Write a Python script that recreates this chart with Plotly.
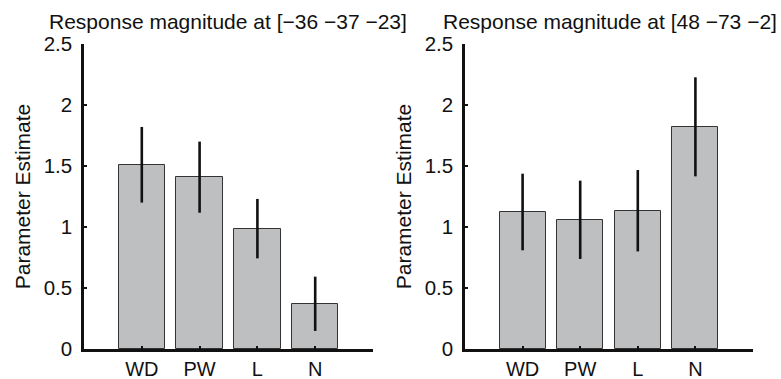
import plotly.graph_objects as go

categories = ["WD", "PW", "L", "N"]
positions = [1, 2, 3, 4]

left_title = "Response magnitude at [\u221236 \u221237 \u221223]"
right_title = "Response magnitude at [48 \u221273 \u22122]"

left_values = [1.51, 1.41, 0.985, 0.37]
left_err_hi = [1.82, 1.70, 1.23, 0.593]
left_err_lo = [1.20, 1.117, 0.743, 0.148]

right_values = [1.12, 1.057, 1.131, 1.82]
right_err_hi = [1.437, 1.38, 1.467, 2.227]
right_err_lo = [0.809, 0.738, 0.80, 1.415]

y_ticks = [0, 0.5, 1, 1.5, 2, 2.5]
y_ticktext = ["0", "0.5", "1", "1.5", "2", "2.5"]

W, H = 781, 379
FONT = "Liberation Sans, Arial, Helvetica, sans-serif"
FS = 20.5

fig = go.Figure()

def add_panel(vals, hi, lo, xa, ya):
    fig.add_trace(go.Bar(
        x=positions, y=vals, width=0.8,
        marker=dict(color="#bebfc1", line=dict(color="#333333", width=1)),
        error_y=dict(type="data", symmetric=False,
                     array=[h - v for h, v in zip(hi, vals)],
                     arrayminus=[v - l for v, l in zip(vals, lo)],
                     color="#111111", thickness=2.6, width=0),
        xaxis=xa, yaxis=ya, showlegend=False, hoverinfo="skip",
    ))

add_panel(left_values, left_err_hi, left_err_lo, "x", "y")
add_panel(right_values, right_err_hi, right_err_lo, "x2", "y2")

y0 = (H - 349) / H
y1 = (H - 44) / H

xcommon = dict(range=[0, 5], tickvals=positions, ticktext=categories,
               ticks="inside", ticklen=3, tickwidth=1.5, tickcolor="#111",
               showline=True, linecolor="#111", linewidth=2.5,
               showgrid=False, zeroline=False, fixedrange=True, automargin=False,
               tickfont=dict(family=FONT, size=20, color="#111"),
               ticklabelstandoff=0)
ycommon = dict(range=[0, 2.5], tickvals=y_ticks, ticktext=y_ticktext,
               ticks="inside", ticklen=3, tickwidth=1.5, tickcolor="#111",
               showline=True, linecolor="#111", linewidth=2.5,
               showgrid=False, zeroline=False, fixedrange=True, automargin=False,
               tickfont=dict(family=FONT, size=FS, color="#111"),
               ticklabelstandoff=5,
               title=dict(text="Parameter Estimate",
                          font=dict(family=FONT, size=21, color="#111"),
                          standoff=8))

fig.update_layout(
    width=W, height=H,
    margin=dict(l=0, r=0, t=0, b=0, autoexpand=False),
    paper_bgcolor="white", plot_bgcolor="white",
    bargap=0,
    xaxis=dict(domain=[84 / W, 373 / W], anchor="y", **xcommon),
    yaxis=dict(domain=[y0, y1], anchor="x", **ycommon),
    xaxis2=dict(domain=[465 / W, 753 / W], anchor="y2", **xcommon),
    yaxis2=dict(domain=[y0, y1], anchor="x2", **ycommon),
    annotations=[
        dict(text=left_title, x=228.5 / W, y=(H - 21) / H, xref="paper", yref="paper",
             showarrow=False, xanchor="center", yanchor="middle",
             font=dict(family=FONT, size=21, color="#111")),
        dict(text=right_title, x=609.5 / W, y=(H - 21) / H, xref="paper", yref="paper",
             showarrow=False, xanchor="center", yanchor="middle",
             font=dict(family=FONT, size=21, color="#111")),
    ],
)

fig.write_html("out.html")
